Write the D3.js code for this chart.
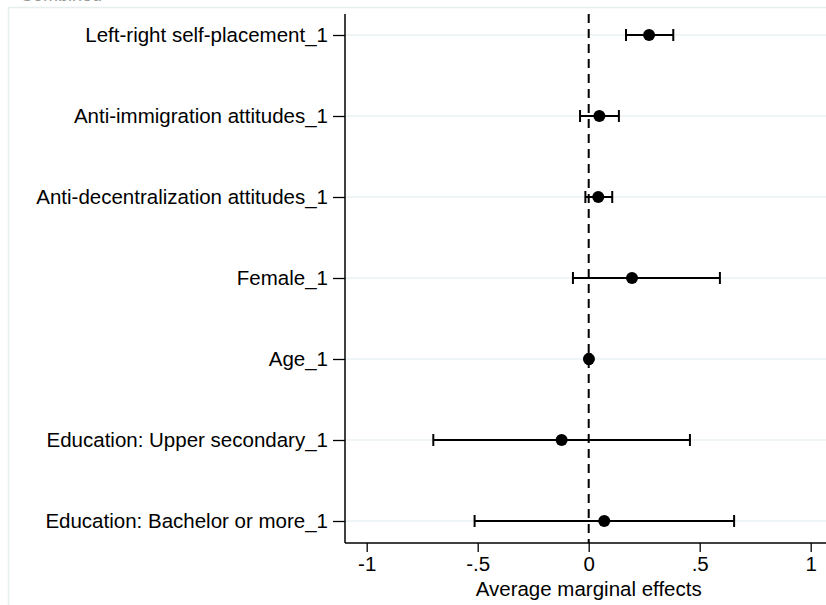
<!DOCTYPE html>
<html>
<head>
<meta charset="utf-8">
<script src="https://cdn.jsdelivr.net/npm/d3@7"></script>
<style>
  body { margin: 0; background: #fff; }
  svg { display: block; font-family: "Liberation Sans", Arial, sans-serif; }
</style>
</head>
<body>
<svg id="chart" width="826" height="605"></svg>
<script>
// Average marginal effects with 95% confidence intervals
const categories = [
  "Left-right self-placement_1",
  "Anti-immigration attitudes_1",
  "Anti-decentralization attitudes_1",
  "Female_1",
  "Age_1",
  "Education: Upper secondary_1",
  "Education: Bachelor or more_1"
];
const estimates = [0.272, 0.048, 0.043, 0.195, 0.001, -0.122, 0.070];
const lowerCI   = [0.168, -0.039, -0.015, -0.071, -0.006, -0.700, -0.514];
const upperCI   = [0.381, 0.136, 0.106, 0.591, 0.008, 0.456, 0.655];
const xTicks = [-1, -0.5, 0, 0.5, 1];
const xTickLabels = ["-1", "-.5", "0", ".5", "1"];
const xTitle = "Average marginal effects";
const panelTitle = "Combined";

const FONT = 20.5;
const svg = d3.select("#chart");
const W = 826, H = 605;
const plot = { left: 345, right: 826, top: 14, bottom: 543 };

// Outer graph region frame
svg.append("rect")
  .attr("x", 8.5).attr("y", 7.5)
  .attr("width", W).attr("height", H)
  .attr("fill", "none").attr("stroke", "#e6efed").attr("stroke-width", 1.5);

// Title, mostly above the visible area
svg.append("text")
  .attr("x", 20).attr("y", 1)
  .attr("font-size", 18).attr("fill", "#999")
  .text(panelTitle);

const x = d3.scaleLinear().domain([0, 1]).range([588.7, 810.7]);
const y = d3.scalePoint().domain(categories).range([35, 521]);

const rows = categories.map((c, i) => ({ c, est: estimates[i], lo: lowerCI[i], hi: upperCI[i] }));

// Grid lines
svg.append("g").selectAll("line").data(categories).join("line")
  .attr("x1", plot.left).attr("x2", plot.right)
  .attr("y1", d => y(d)).attr("y2", d => y(d))
  .attr("stroke", "#eaf0f3").attr("stroke-width", 1.5);

// Y axis
const yAxis = d3.axisLeft(y).tickSize(12).tickPadding(5);
const gy = svg.append("g").attr("transform", `translate(${plot.left},0)`).call(yAxis);
gy.select(".domain").remove();
gy.selectAll(".tick line").attr("stroke", "#000").attr("stroke-width", 1.3);
gy.selectAll(".tick text").attr("font-size", FONT).attr("fill", "#000")
  .attr("font-family", "Liberation Sans, Arial, sans-serif");
svg.append("line")
  .attr("x1", plot.left).attr("x2", plot.left)
  .attr("y1", plot.top).attr("y2", plot.bottom)
  .attr("stroke", "#000").attr("stroke-width", 1.5);

// X axis
const xAxis = d3.axisBottom(x).tickValues(xTicks)
  .tickFormat((d, i) => xTickLabels[i]).tickSize(9).tickPadding(4);
const gx = svg.append("g").attr("transform", `translate(0,${plot.bottom})`).call(xAxis);
gx.select(".domain").remove();
gx.selectAll(".tick line").attr("stroke", "#000").attr("stroke-width", 1.3);
gx.selectAll(".tick text").attr("font-size", FONT).attr("fill", "#000")
  .attr("font-family", "Liberation Sans, Arial, sans-serif");
svg.append("line")
  .attr("x1", plot.left).attr("x2", plot.right)
  .attr("y1", plot.bottom).attr("y2", plot.bottom)
  .attr("stroke", "#000").attr("stroke-width", 1.5);

svg.append("text")
  .attr("x", x(0)).attr("y", 596)
  .attr("text-anchor", "middle")
  .attr("font-size", FONT).attr("fill", "#000")
  .text(xTitle);

// Reference line at zero
svg.append("line")
  .attr("x1", x(0)).attr("x2", x(0))
  .attr("y1", plot.top).attr("y2", plot.bottom)
  .attr("stroke", "#000").attr("stroke-width", 2)
  .attr("stroke-dasharray", "9,6");

// Confidence intervals
const g = svg.append("g");
g.selectAll("line.ci").data(rows).join("line").attr("class", "ci")
  .attr("x1", d => x(d.lo)).attr("x2", d => x(d.hi))
  .attr("y1", d => y(d.c)).attr("y2", d => y(d.c))
  .attr("stroke", "#000").attr("stroke-width", 2);
["lo", "hi"].forEach(k => {
  g.selectAll("line.cap-" + k).data(rows).join("line").attr("class", "cap-" + k)
    .attr("x1", d => x(d[k])).attr("x2", d => x(d[k]))
    .attr("y1", d => y(d.c) - 6).attr("y2", d => y(d.c) + 6)
    .attr("stroke", "#000").attr("stroke-width", 2);
});

// Point estimates
g.selectAll("circle").data(rows).join("circle")
  .attr("cx", d => x(d.est)).attr("cy", d => y(d.c))
  .attr("r", 6).attr("fill", "#000");
</script>
</body>
</html>
